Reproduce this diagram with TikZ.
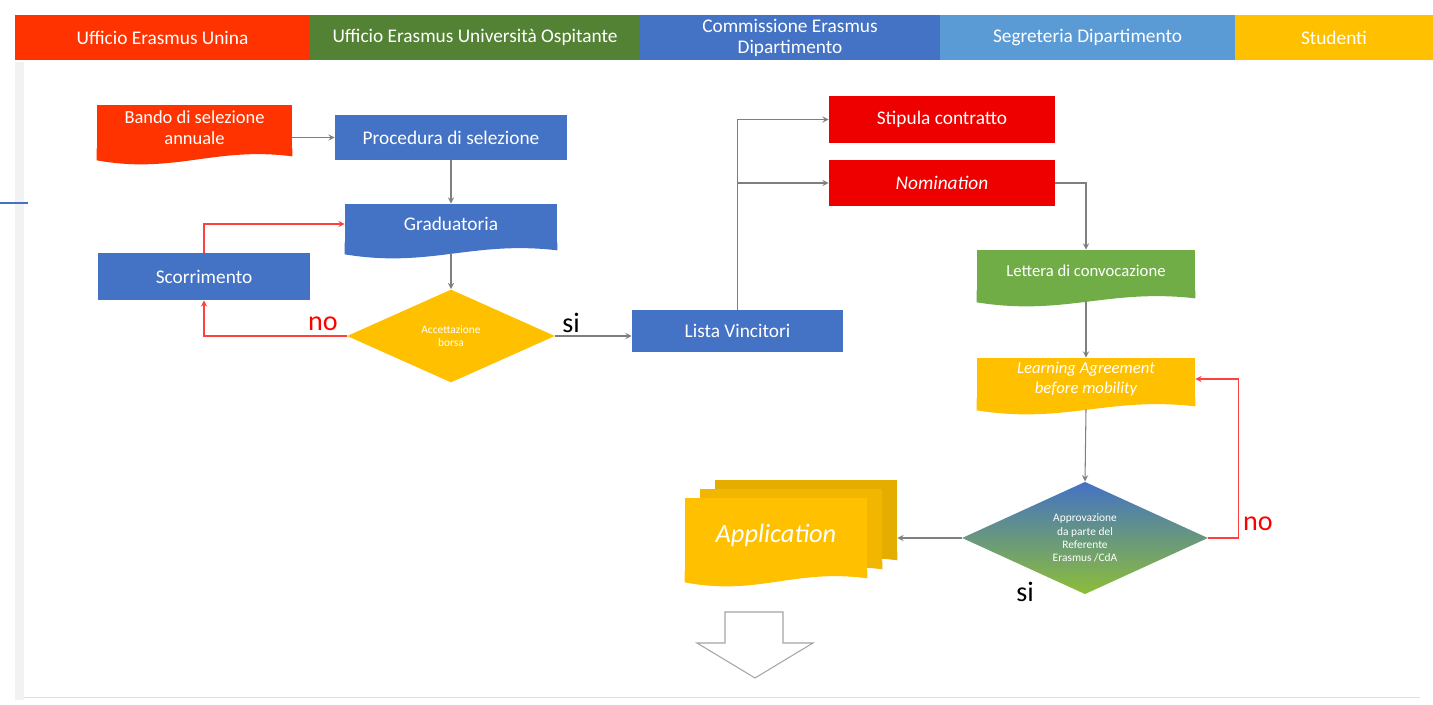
\documentclass[tikz,border=0pt]{standalone}
\usepackage{fontspec}
\setmainfont{Carlito}
\usetikzlibrary{shapes.geometric, arrows, calc}
\definecolor{unina}{HTML}{FF3300}
\definecolor{ospite}{HTML}{548235}
\definecolor{commis}{HTML}{4472C4}
\definecolor{segret}{HTML}{5B9BD5}
\definecolor{stud}{HTML}{FFC000}
\definecolor{rosso}{HTML}{EE0000}
\definecolor{verde}{HTML}{70AD47}
\definecolor{linea}{HTML}{7F7F7F}
\tikzstyle{lane} = [rectangle, minimum height=0.9cm, text centered, align=center, text=white, font=\fontsize{11}{12}\selectfont, inner sep=1pt]
\tikzstyle{process} = [rectangle, minimum width=4.24cm, minimum height=0.9cm, text centered, text=white, font=\fontsize{11}{13}\selectfont]
\tikzstyle{decision} = [diamond, inner sep=0pt, text centered, align=center, text=white, font=\fontsize{6.5}{7.5}\selectfont]
\tikzstyle{arrow} = [->, >=stealth, draw=linea, line width=0.6pt]
\tikzstyle{back} = [->, >=stealth, draw=red!75, line width=0.6pt]
\tikzstyle{answer} = [font=\fontsize{16}{16}\selectfont]
\tikzset{docu/.style={rectangle, fill=#1, text centered, align=center, text=white, font=\fontsize{11}{13}\selectfont}}
\newcommand{\wavefoot}[2]{\fill[#2] ($(#1.south west)+(0,-2)$) -- ($(#1.south east)+(0,-2)$) -- ($(#1.south east)+(0,6)$) .. controls ($(#1.south west)!0.6!(#1.south east)+(0,-4)$) and ($(#1.south west)!0.4!(#1.south east)+(0,24)$) .. ($(#1.south west)+(0,10)$) -- cycle;}

\begin{document}
\begin{tikzpicture}[x=0.02cm, y=-0.02cm]
\useasboundingbox (0,0) rectangle (1433,705);

\fill[gray!10] (15,62) rectangle (24,700);
\draw[gray!25] (24,697) -- (1420,697);
\draw[commis, line width=1.2pt] (0,203) -- (28,203);

\node at (162.5,37.5) (unina) [lane, fill=unina, minimum width=5.9cm] {Ufficio Erasmus Unina};
\node at (475,37.5) (ospitante) [lane, fill=ospite, minimum width=6.6cm] {Ufficio Erasmus Università Ospitante};
\node at (790,37.5) (commissione) [lane, fill=commis, minimum width=6cm] {Commissione Erasmus\\Dipartimento};
\node at (1087.5,37.5) (segreteria) [lane, fill=segret, minimum width=5.9cm] {Segreteria Dipartimento};
\node at (1334,37.5) (studenti) [lane, fill=stud, minimum width=3.96cm] {Studenti};

\node at (194.5,127.5) (bando) [docu=unina, minimum width=3.9cm, minimum height=0.9cm, inner sep=1pt, font=\fontsize{10.5}{12}\selectfont] {Bando di selezione\\annuale};
\wavefoot{bando}{unina}
\node at (451,137.5) (procedura) [process, fill=commis, minimum width=4.64cm] {Procedura di selezione};
\node at (451,224) (graduatoria) [docu=commis, minimum width=4.24cm, minimum height=0.8cm] {Graduatoria};
\wavefoot{graduatoria}{commis}
\node at (204,276.5) (scorrimento) [process, fill=commis, minimum height=0.94cm] {Scorrimento};
\node at (451,336) (accettazione) [decision, fill=stud, minimum width=4.16cm, minimum height=1.86cm] {Accettazione\\borsa};
\node at (737.5,331) (vincitori) [process, fill=commis, minimum width=4.22cm, minimum height=0.84cm] {Lista Vincitori};
\node at (942,119.5) (stipula) [process, fill=rosso, minimum width=4.52cm, minimum height=0.94cm] {Stipula contratto};
\node at (942,183) (nomination) [process, fill=rosso, minimum width=4.52cm, minimum height=0.92cm] {\textit{Nomination}};
\node at (1086,271) (convocazione) [docu=verde, minimum width=4.36cm, minimum height=0.84cm, font=\fontsize{9.5}{11}\selectfont] {Lettera di convocazione};
\wavefoot{convocazione}{verde}
\node at (1086,379) (learning) [docu=stud, minimum width=4.36cm, minimum height=0.84cm, inner sep=1pt, font=\itshape\fontsize{9.5}{11}\selectfont] {Learning Agreement\\before mobility};
\wavefoot{learning}{stud}
\node at (1085,538) (approvazione) [decision, top color=commis, bottom color=verde!80!yellow, minimum width=4.92cm, minimum height=2.1cm] {Approvazione\\da parte del\\Referente\\Erasmus /CdA};

\node at (806,517) (app3) [docu=stud!90!black, minimum width=3.64cm, minimum height=1.48cm] {};
\wavefoot{app3}{stud!90!black}
\node at (791,526) (app2) [docu=stud!95!black, minimum width=3.64cm, minimum height=1.48cm] {};
\wavefoot{app2}{stud!95!black}
\node at (776,535) (application) [docu=stud, minimum width=3.64cm, minimum height=1.48cm, font=\itshape\fontsize{15}{16}\selectfont] {Application};
\wavefoot{application}{stud}

\draw[linea!70, fill=white, line width=0.6pt] (725,612) -- (783,612) -- (783,643) -- (813,643) -- (755,678) -- (697,643) -- (725,643) -- cycle;

\draw [arrow] (bando.east |- procedura.west) -- (procedura.west);
\draw [arrow] (procedura) -- (graduatoria);
\draw [arrow] ($(graduatoria.south)+(0,9)$) -- (accettazione.north);
\draw [back] (accettazione.west) -| (scorrimento.south);
\draw [back] (scorrimento.north) |- (graduatoria.west);
\node at (323,324) (noa) [answer, text=red] {no};
\draw [arrow] (accettazione.east) -- (vincitori.west |- accettazione.east);
\node at (571,323) (sia) [answer] {si};
\draw [arrow] (vincitori.north) |- (stipula.west);
\draw [arrow] (vincitori.north |- nomination.west) -- (nomination.west);
\draw [arrow] (nomination.east) -| (convocazione.north);
\draw [arrow] ($(convocazione.south)+(0,9)$) -- (learning.north);
\draw [arrow] ($(learning.south)+(0,9)$) -- (approvazione.north);
\draw [back] (approvazione.east) -- ++(30,0) |- (learning.east);
\node at (1258,524) (nob) [answer, text=red] {no};
\draw [arrow] (approvazione.west) -- (approvazione.west -| app3.east);
\node at (1025,592) (sib) [answer] {si};

\end{tikzpicture}
\end{document}
